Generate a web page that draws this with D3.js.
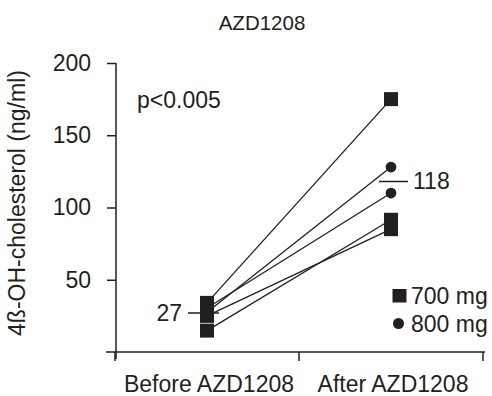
<!DOCTYPE html>
<html><head><meta charset="utf-8">
<script src="https://cdn.jsdelivr.net/npm/d3@7"></script>
<style>
body{margin:0;background:#fff;}
text{font-family:"Liberation Sans",Arial,Helvetica,sans-serif;fill:#231f20;}
</style></head>
<body><svg id="c" width="492" height="396"></svg>
<script>
const categories = ["Before AZD1208", "After AZD1208"];
const before = [34, 30.5, 27.5, 25, 14.8];
const after = [175, 110, 128, 85, 91.5];
const dose = ["700 mg", "800 mg", "800 mg", "700 mg", "700 mg"];
const means = [27, 118];
const meanLabels = ["27", "118"];
const yTicks = [50, 100, 150, 200];
const legendItems = ["700 mg", "800 mg"];
const title = "AZD1208";
const yLabel = "4ß-OH-cholesterol (ng/ml)";
const pText = "p<0.005";

const ink = "#231f20";
const fs = "23px";
const svg = d3.select("#c");
const x = d3.scaleBand().domain(categories).range([115, 483]).padding(0);
const y = d3.scaleLinear().domain([0, 200]).range([352, 63]);
const cx = c => x(c) + x.bandwidth() / 2;

// title
svg.append("text").attr("x", 262).attr("y", 30).attr("text-anchor", "middle")
  .style("font-size", "20.5px").text(title);

// y axis
const ya = svg.append("g").attr("transform", "translate(116,0)")
  .call(d3.axisLeft(y).tickValues(yTicks).tickSize(9).tickSizeOuter(0).tickPadding(16));
ya.select(".domain").remove();
ya.selectAll(".tick line").attr("stroke", ink).attr("stroke-width", 1.5);
ya.selectAll(".tick text").attr("fill", ink).style("font-size", fs)
  .style("font-family", '"Liberation Sans",Arial,sans-serif');
svg.append("line").attr("x1", 116).attr("x2", 116).attr("y1", y(200)).attr("y2", y(0) + 7)
  .attr("stroke", ink).attr("stroke-width", 1.5);

// x axis
svg.append("line").attr("x1", 106).attr("x2", 485).attr("y1", y(0)).attr("y2", y(0))
  .attr("stroke", ink).attr("stroke-width", 1.5);
const bounds = [x(categories[0]), x(categories[1]), x(categories[1]) + x.bandwidth()];
svg.selectAll(".xt").data(bounds).enter().append("line")
  .attr("x1", d => d).attr("x2", d => d).attr("y1", y(0)).attr("y2", y(0) + 9)
  .attr("stroke", ink).attr("stroke-width", 1.5);
svg.selectAll(".xl").data(categories).enter().append("text")
  .attr("x", d => cx(d) + 2).attr("y", 392).attr("text-anchor", "middle")
  .style("font-size", fs).text(d => d);

// y label
svg.append("text").attr("transform", `translate(25,${(68 + 338) / 2}) rotate(-90)`)
  .attr("text-anchor", "middle").style("font-size", fs).text(yLabel);

// p-value
svg.append("text").attr("x", 137).attr("y", 108).style("font-size", fs).text(pText);

// connecting lines
const subjects = before.map((b, i) => ({ b, a: after[i], d: dose[i] }));
svg.selectAll(".pl").data(subjects).enter().append("line")
  .attr("x1", cx(categories[0])).attr("y1", d => y(d.b))
  .attr("x2", cx(categories[1])).attr("y2", d => y(d.a))
  .attr("stroke", ink).attr("stroke-width", 1.3);

const sq = 14, r = 5.4;
// before markers (all squares)
svg.selectAll(".bm").data(subjects).enter().append("rect")
  .attr("x", cx(categories[0]) - sq / 2).attr("y", d => y(d.b) - sq / 2)
  .attr("width", sq).attr("height", sq).attr("fill", ink);
// after markers
subjects.forEach(d => {
  if (d.d === legendItems[0]) {
    svg.append("rect").attr("x", cx(categories[1]) - sq / 2).attr("y", y(d.a) - sq / 2)
      .attr("width", sq).attr("height", sq).attr("fill", ink);
  } else {
    svg.append("circle").attr("cx", cx(categories[1])).attr("cy", y(d.a)).attr("r", r).attr("fill", ink);
  }
});

// mean lines
const mOff = [[-19, 12], [-12, 17]];
means.forEach((m, i) => {
  const c = cx(categories[i]);
  svg.append("line").attr("x1", c + mOff[i][0]).attr("x2", c + mOff[i][1])
    .attr("y1", y(m)).attr("y2", y(m)).attr("stroke", ink).attr("stroke-width", 1.5);
});
svg.append("text").attr("x", cx(categories[0]) - 25).attr("y", y(means[0]) + 8)
  .attr("text-anchor", "end").style("font-size", fs).text(meanLabels[0]);
svg.append("text").attr("x", cx(categories[1]) + 22).attr("y", y(means[1]) + 8)
  .style("font-size", fs).text(meanLabels[1]);

// legend
svg.append("rect").attr("x", 392.5).attr("y", 289).attr("width", 14).attr("height", 13.5).attr("fill", ink);
svg.append("text").attr("x", 411).attr("y", 303.5).style("font-size", fs).text(legendItems[0]);
svg.append("circle").attr("cx", 398.5).attr("cy", 323.5).attr("r", 5.5).attr("fill", ink);
svg.append("text").attr("x", 411).attr("y", 331.5).style("font-size", fs).text(legendItems[1]);
</script></body></html>
